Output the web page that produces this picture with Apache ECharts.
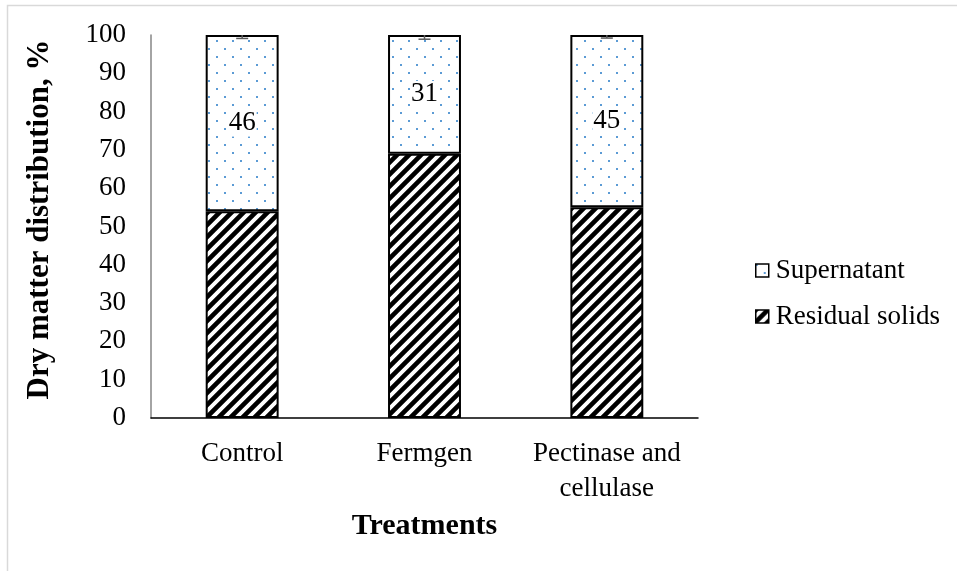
<!DOCTYPE html>
<html>
<head>
<meta charset="utf-8">
<script src="https://cdn.jsdelivr.net/npm/echarts@6/dist/echarts.min.js"></script>
<style>
  html, body { margin: 0; padding: 0; background: #fff; }
  #chart { width: 957px; height: 571px; }
</style>
</head>
<body>
<div id="chart"></div>
<script>
// Treatments and dry matter split (%)
const categories = ['Control', 'Fermgen', 'Pectinase and\ncellulase'];
const residualSolids = [54, 69, 55];
const supernatant = [46, 31, 45];
const errorBars = [0.9, 1.1, 0.8];
const yTicks = [0, 10, 20, 30, 40, 50, 60, 70, 80, 90, 100];

const FONT = '"Liberation Serif", "Times New Roman", serif';

// Blue dotted fill for the supernatant fraction
function dotPattern() {
  const c = document.createElement('canvas');
  c.width = 16; c.height = 16;
  const g = c.getContext('2d');
  g.fillStyle = '#ffffff';
  g.fillRect(0, 0, 16, 16);
  g.fillStyle = '#5b9bd5';
  g.fillRect(0, 0, 2, 2);
  g.fillRect(8, 8, 2, 2);
  return c;
}

// Wide black diagonal hatching for the residual solids
function hatchPattern() {
  const s = 12;
  const c = document.createElement('canvas');
  c.width = s; c.height = s;
  const g = c.getContext('2d');
  g.fillStyle = '#ffffff';
  g.fillRect(0, 0, s, s);
  g.strokeStyle = '#000000';
  g.lineWidth = 4.6;
  g.beginPath();
  g.moveTo(-1, s + 1); g.lineTo(s + 1, -1);
  g.moveTo(-s / 2 - 1, s / 2 + 1); g.lineTo(s / 2 + 1, -s / 2 - 1);
  g.moveTo(s / 2 - 1, 3 * s / 2 + 1); g.lineTo(3 * s / 2 + 1, s / 2 - 1);
  g.stroke();
  return c;
}

const chart = echarts.init(document.getElementById('chart'), null, { renderer: 'canvas' });

const tops = residualSolids.map((v, i) => v + supernatant[i]);

chart.setOption({
  backgroundColor: '#ffffff',
  animation: false,
  graphic: [{
    type: 'rect',
    shape: { x: 7.5, y: 5.5, width: 1000, height: 700 },
    style: { fill: 'none', stroke: '#d9d9d9', lineWidth: 1.5 },
    silent: true
  }],
  grid: { left: 151, right: 259, top: 35, bottom: 153 },
  legend: {
    orient: 'vertical',
    left: 750,
    top: 252,
    icon: 'rect',
    itemWidth: 13,
    itemHeight: 13,
    itemGap: 19,
    data: ['Supernatant', 'Residual solids'],
    textStyle: { fontFamily: FONT, fontSize: 27, color: '#000', padding: [0, 0, 0, 2] },
    itemStyle: { borderColor: '#000', borderWidth: 1.5 }
  },
  xAxis: {
    type: 'category',
    data: categories,
    name: 'Treatments',
    nameLocation: 'middle',
    nameGap: 93,
    nameTextStyle: { fontFamily: FONT, fontSize: 30, fontWeight: 'bold', color: '#000' },
    axisLine: { lineStyle: { color: '#000', width: 1.5 } },
    axisTick: { show: false },
    axisLabel: { interval: 0, fontFamily: FONT, fontSize: 27, color: '#000', margin: 18, lineHeight: 35 }
  },
  yAxis: {
    type: 'value',
    min: yTicks[0],
    max: yTicks[yTicks.length - 1],
    interval: 10,
    name: 'Dry matter distribution, %',
    nameLocation: 'middle',
    nameGap: 96,
    nameTextStyle: { fontFamily: FONT, fontSize: 31, fontWeight: 'bold', color: '#000', padding: [0, 0, 0, 14] },
    axisLine: { show: true, lineStyle: { color: '#868686', width: 1.5 } },
    axisTick: { show: false },
    splitLine: { show: false },
    axisLabel: { fontFamily: FONT, fontSize: 27, color: '#000', margin: 25 }
  },
  series: [
    {
      name: 'Residual solids',
      type: 'bar',
      stack: 'dm',
      barWidth: '40%',
      data: residualSolids,
      itemStyle: {
        color: { image: hatchPattern(), repeat: 'repeat' },
        borderColor: '#000',
        borderWidth: 2
      }
    },
    {
      name: 'Supernatant',
      type: 'bar',
      stack: 'dm',
      barWidth: '40%',
      data: supernatant,
      itemStyle: {
        color: { image: dotPattern(), repeat: 'repeat' },
        borderColor: '#000',
        borderWidth: 2
      },
      label: {
        show: true,
        position: 'inside',
        fontFamily: FONT,
        fontSize: 27,
        color: '#000',
        backgroundColor: '#fff',
        padding: [0, 1]
      }
    },
    {
      // lower half of each error bar hangs from the stacked total
      name: 'error',
      type: 'custom',
      data: tops.map((t, i) => [i, t, errorBars[i]]),
      renderItem: function (params, api) {
        const x = api.value(0);
        const top = api.coord([x, api.value(1)]);
        const low = api.coord([x, api.value(1) - api.value(2)]);
        const half = 6;
        return {
          type: 'group',
          children: [
            { type: 'line', shape: { x1: top[0], y1: top[1], x2: low[0], y2: low[1] },
              style: { stroke: '#595959', lineWidth: 1.5 } },
            { type: 'line', shape: { x1: low[0] - half, y1: low[1], x2: low[0] + half, y2: low[1] },
              style: { stroke: '#595959', lineWidth: 1.5 } }
          ]
        };
      },
      z: 10,
      silent: true
    }
  ]
});
</script>
</body>
</html>
